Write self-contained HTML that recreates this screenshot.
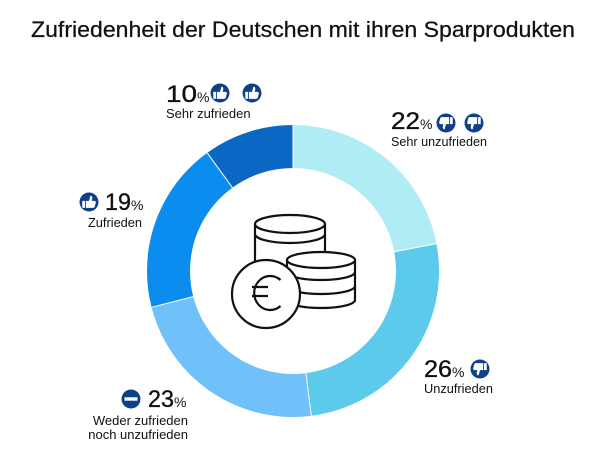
<!DOCTYPE html>
<html><head><meta charset="utf-8"><style>
html,body{margin:0;padding:0;background:#fff;}
svg{display:block;}
text{font-family:"Liberation Sans",Arial,sans-serif;fill:#111;}
.num{stroke:#111;stroke-width:0.35;}
</style></head><body>
<svg width="603" height="455" viewBox="0 0 603 455" xmlns="http://www.w3.org/2000/svg">
<defs>
  <g id="tu">
    <circle r="9.5" fill="#0f4188"/>
    <g transform="scale(1.12)">
      <rect x="-6" y="-1" width="2.4" height="6.2" fill="#fff"/>
      <path d="M-2.8,-1 L0,-1 L1.2,-5.5 Q3,-6 2.9,-3.2 L2.4,-1 L5.2,-1 Q6.4,-0.6 6,1 L5,4.6 Q4.6,5.2 3.6,5.2 L-2.8,5.2 Z" fill="#fff"/>
    </g>
  </g>
  <g id="td">
    <g transform="rotate(180)">
      <circle r="9.5" fill="#0f4188"/>
      <g transform="scale(1.12)">
        <rect x="-6" y="-1" width="2.4" height="6.2" fill="#fff"/>
        <path d="M-2.8,-1 L0,-1 L1.2,-5.5 Q3,-6 2.9,-3.2 L2.4,-1 L5.2,-1 Q6.4,-0.6 6,1 L5,4.6 Q4.6,5.2 3.6,5.2 L-2.8,5.2 Z" fill="#fff"/>
      </g>
    </g>
  </g>
</defs>

<!-- title -->
<text x="31" y="37" font-size="22" textLength="544" lengthAdjust="spacingAndGlyphs" style="stroke:#111;stroke-width:0.25">Zufriedenheit der Deutschen mit ihren Sparprodukten</text>

<!-- donut -->
<g transform="rotate(-90 293 271)" fill="none" stroke-width="43">
  <circle cx="293" cy="271" r="124.5" stroke="#b0ecf4" stroke-dasharray="172.10 782.26" stroke-dashoffset="0"/>
  <circle cx="293" cy="271" r="124.5" stroke="#5ccaea" stroke-dasharray="203.39 782.26" stroke-dashoffset="-172.10"/>
  <circle cx="293" cy="271" r="124.5" stroke="#70c0fa" stroke-dasharray="179.92 782.26" stroke-dashoffset="-375.49"/>
  <circle cx="293" cy="271" r="124.5" stroke="#0b8cef" stroke-dasharray="148.63 782.26" stroke-dashoffset="-555.41"/>
  <circle cx="293" cy="271" r="124.5" stroke="#0a67c4" stroke-dasharray="78.23 782.26" stroke-dashoffset="-704.04"/>
</g>
<!-- separators -->
<g stroke="#fff" stroke-width="1">
  <line x1="293" y1="168" x2="293" y2="124"/>
  <line x1="394.2" y1="251.7" x2="436.4" y2="243.6"/>
  <line x1="305.9" y1="373.2" x2="311.3" y2="415.9"/>
  <line x1="193.2" y1="296.6" x2="151.5" y2="307.3"/>
  <line x1="232.5" y1="187.7" x2="207.2" y2="152.9"/>
</g>

<!-- coins icon -->
<g stroke="#111" stroke-width="2.2" fill="#fff" stroke-linejoin="round">
  <path d="M255,224 L255,264 A35,9 0 0 0 325,264 L325,224 Z"/>
  <ellipse cx="290" cy="224" rx="35" ry="9"/>
  <path d="M255,234 A35,9 0 0 0 325,234" fill="none"/>
  <path d="M287,260 L287,300 A34,8 0 0 0 355,300 L355,260 Z"/>
  <ellipse cx="321" cy="260" rx="34" ry="8"/>
  <path d="M287,272 A34,8 0 0 0 355,272" fill="none"/>
  <path d="M287,286 A34,8 0 0 0 355,286" fill="none"/>
  <circle cx="266" cy="294" r="34"/>
  <path d="M280.5,280 A16,17 0 1 0 280.5,306" fill="none"/>
  <path d="M252,287 H268 M252,296 H268" fill="none"/>
</g>

<!-- 10% -->
<text class="num" x="166" y="102" font-size="24" textLength="31" lengthAdjust="spacingAndGlyphs">10</text>
<text x="197" y="102" font-size="14">%</text>
<use href="#tu" x="220" y="93"/>
<use href="#tu" x="252" y="93"/>
<text x="166" y="118" font-size="13">Sehr zufrieden</text>

<!-- 22% -->
<text class="num" x="391" y="129" font-size="24" textLength="29" lengthAdjust="spacingAndGlyphs">22</text>
<text x="420" y="129" font-size="14">%</text>
<use href="#td" x="446" y="123"/>
<use href="#td" x="474" y="123"/>
<text x="391" y="146" font-size="13" textLength="96" lengthAdjust="spacingAndGlyphs">Sehr unzufrieden</text>

<!-- 19% -->
<use href="#tu" x="89" y="202"/>
<text class="num" x="105" y="210" font-size="24" textLength="26" lengthAdjust="spacingAndGlyphs">19</text>
<text x="131" y="210" font-size="14">%</text>
<text x="88" y="227" font-size="13" textLength="54" lengthAdjust="spacingAndGlyphs">Zufrieden</text>

<!-- 26% -->
<text class="num" x="424" y="377" font-size="24" textLength="28" lengthAdjust="spacingAndGlyphs">26</text>
<text x="452" y="377" font-size="14">%</text>
<use href="#td" x="480" y="369"/>
<text x="424" y="393" font-size="13" textLength="69" lengthAdjust="spacingAndGlyphs">Unzufrieden</text>

<!-- 23% -->
<g>
  <circle cx="131" cy="399" r="9.5" fill="#0f4188"/>
  <rect x="124.5" y="397.3" width="13" height="3.4" fill="#fff"/>
</g>
<text class="num" x="148" y="407" font-size="24" textLength="26" lengthAdjust="spacingAndGlyphs">23</text>
<text x="174" y="407" font-size="14">%</text>
<text x="188" y="425" font-size="13" text-anchor="end">Weder zufrieden</text>
<text x="188" y="439" font-size="13" text-anchor="end">noch unzufrieden</text>
</svg>
</body></html>
